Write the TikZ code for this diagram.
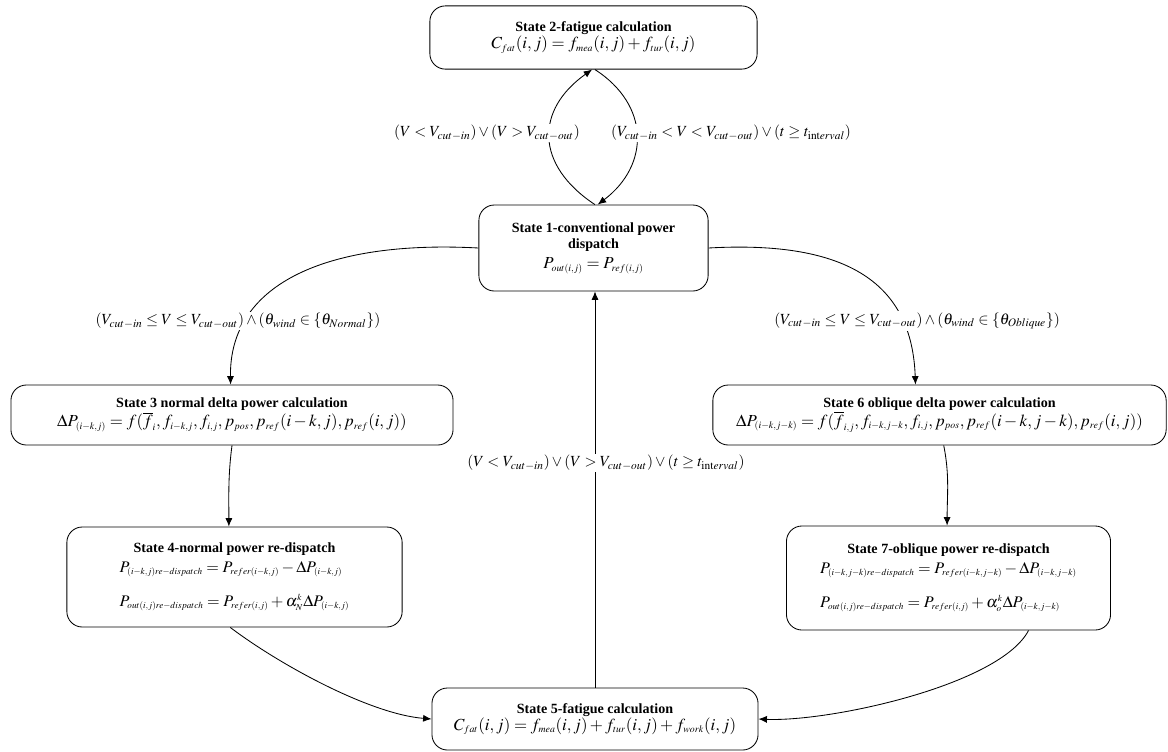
\documentclass[tikz,border=0pt]{standalone}
\usepackage{mathptmx}
\usepackage{fontspec}
\setmainfont{Liberation Serif}
\usetikzlibrary{arrows.meta, positioning}
\DeclareMathSizes{12}{12}{7}{5}
\DeclareMathSizes{11.5}{11.5}{6.5}{5}

\tikzset{
  state/.style={draw, line width=0.6pt, rounded corners=11pt, align=center,
                inner sep=2pt, font=\normalsize},
  cond/.style={fill=white, inner sep=1pt, font=\fontsize{11}{13}\selectfont},
  trans/.style={-{Latex[length=6pt,width=5pt]}, line width=0.6pt}
}
\newcommand{\ttl}[1]{\textbf{#1}}
\newcommand{\eqn}[1]{{\fontsize{12}{14}\selectfont$#1$}}
\newcommand{\eqns}[1]{{\fontsize{11.5}{13}\selectfont$#1$}}

\begin{document}
\begin{tikzpicture}[x=0.025cm, y=-0.025cm]
  \useasboundingbox (0,0) rectangle (1168,751);

  % states
  \node[state, minimum width=8.18cm, minimum height=1.58cm] (s2) at (593.5,37.5)
    {\ttl{State 2-fatigue calculation}\\ \eqn{C_{fat}(i,j)=f_{mea}(i,j)+f_{tur}(i,j)}};
  \node[state, minimum width=5.73cm, minimum height=2.15cm] (s1) at (593.5,248)
    {\ttl{State 1-conventional power}\\ \ttl{dispatch}\\[2pt] \eqn{P_{out(i,j)}=P_{ref(i,j)}}};
  \node[state, minimum width=11.05cm, minimum height=1.5cm] (s3) at (232,415)
    {\ttl{State 3 normal delta power calculation}\\
     \eqn{\Delta P_{(i-k,j)}=f(\overline{f}_{i},f_{i-k,j},f_{i,j},p_{pos},p_{ref}(i-k,j),p_{ref}(i,j))}};
  \node[state, minimum width=11.33cm, minimum height=1.5cm] (s6) at (939.5,415)
    {\ttl{State 6 oblique delta power calculation}\\
     \eqn{\Delta P_{(i-k,j-k)}=f(\overline{f}_{i,j},f_{i-k,j-k},f_{i,j},p_{pos},p_{ref}(i-k,j-k),p_{ref}(i,j))}};
  \node[state, minimum width=8.38cm, minimum height=2.5cm] (s4) at (234.5,577)
    {\ttl{State 4-normal power re-dispatch}\\[2pt]
     \eqns{\begin{array}{@{}l@{}}
       P_{(i-k,j)re-dispatch}=P_{refer(i-k,j)}-\Delta P_{(i-k,j)}\\[11pt]
       P_{out(i,j)re-dispatch}=P_{refer(i,j)}+\alpha_{N}^{k}\Delta P_{(i-k,j)}
     \end{array}}};
  \node[state, minimum width=8.1cm, minimum height=2.6cm] (s7) at (948.5,578)
    {\ttl{State 7-oblique power re-dispatch}\\[2pt]
     \eqns{\begin{array}{@{}l@{}}
       P_{(i-k,j-k)re-dispatch}=P_{refer(i-k,j-k)}-\Delta P_{(i-k,j-k)}\\[11pt]
       P_{out(i,j)re-dispatch}=P_{refer(i,j)}+\alpha_{o}^{k}\Delta P_{(i-k,j-k)}
     \end{array}}};
  \node[state, minimum width=8.15cm, minimum height=1.55cm] (s5) at (595,719)
    {\ttl{State 5-fatigue calculation}\\
     \eqn{C_{fat}(i,j)=f_{mea}(i,j)+f_{tur}(i,j)+f_{work}(i,j)}};

  % transitions
  \draw[trans] ([xshift=1pt]s1.north) .. controls (535,165) and (535,110) .. ([xshift=-1pt]s2.south);
  \draw[trans] ([xshift=1pt]s2.south) .. controls (650,105) and (650,165) .. ([xshift=3pt]s1.north);
  \draw[trans] (s1.west) .. controls (330,240) and (229,282) .. ([xshift=-1pt]s3.north);
  \draw[trans] (s1.east) .. controls (850,240) and (912,285) .. ([xshift=-0.6cm]s6.north);
  \draw[trans] (s3.south) .. controls +(-4,30) and +(0,-30) .. ([xshift=-4pt]s4.north);
  \draw[trans] ([xshift=3pt]s6.south) .. controls +(6,30) and +(0,-30) .. ([xshift=-1pt]s7.north);
  \draw[trans] ([xshift=-3pt]s4.south) .. controls (280,665) and (370,714) .. (s5.west);
  \draw[trans] ([xshift=2cm]s7.south) .. controls (1000,685) and (830,722) .. (s5.east);
  \draw[trans] (s5.north) -- (s5.north |- s1.south);

  % conditions
  \node[cond] (c12) at (487,133) {$(V<V_{cut-in})\vee(V>V_{cut-out})$};
  \node[cond] (c21) at (731,133) {$(V_{cut-in}<V<V_{cut-out})\vee(t\geq t_{\mathrm{int}erval})$};
  \node[cond] (c13) at (238,321) {$(V_{cut-in}\leq V\leq V_{cut-out})\wedge(\theta_{wind}\in\{\theta_{Normal}\})$};
  \node[cond] (c16) at (917,321) {$(V_{cut-in}\leq V\leq V_{cut-out})\wedge(\theta_{wind}\in\{\theta_{Oblique}\})$};
  \node[cond] (c51) at (606,463) {$(V<V_{cut-in})\vee(V>V_{cut-out})\vee(t\geq t_{\mathrm{int}erval})$};
\end{tikzpicture}
\end{document}
